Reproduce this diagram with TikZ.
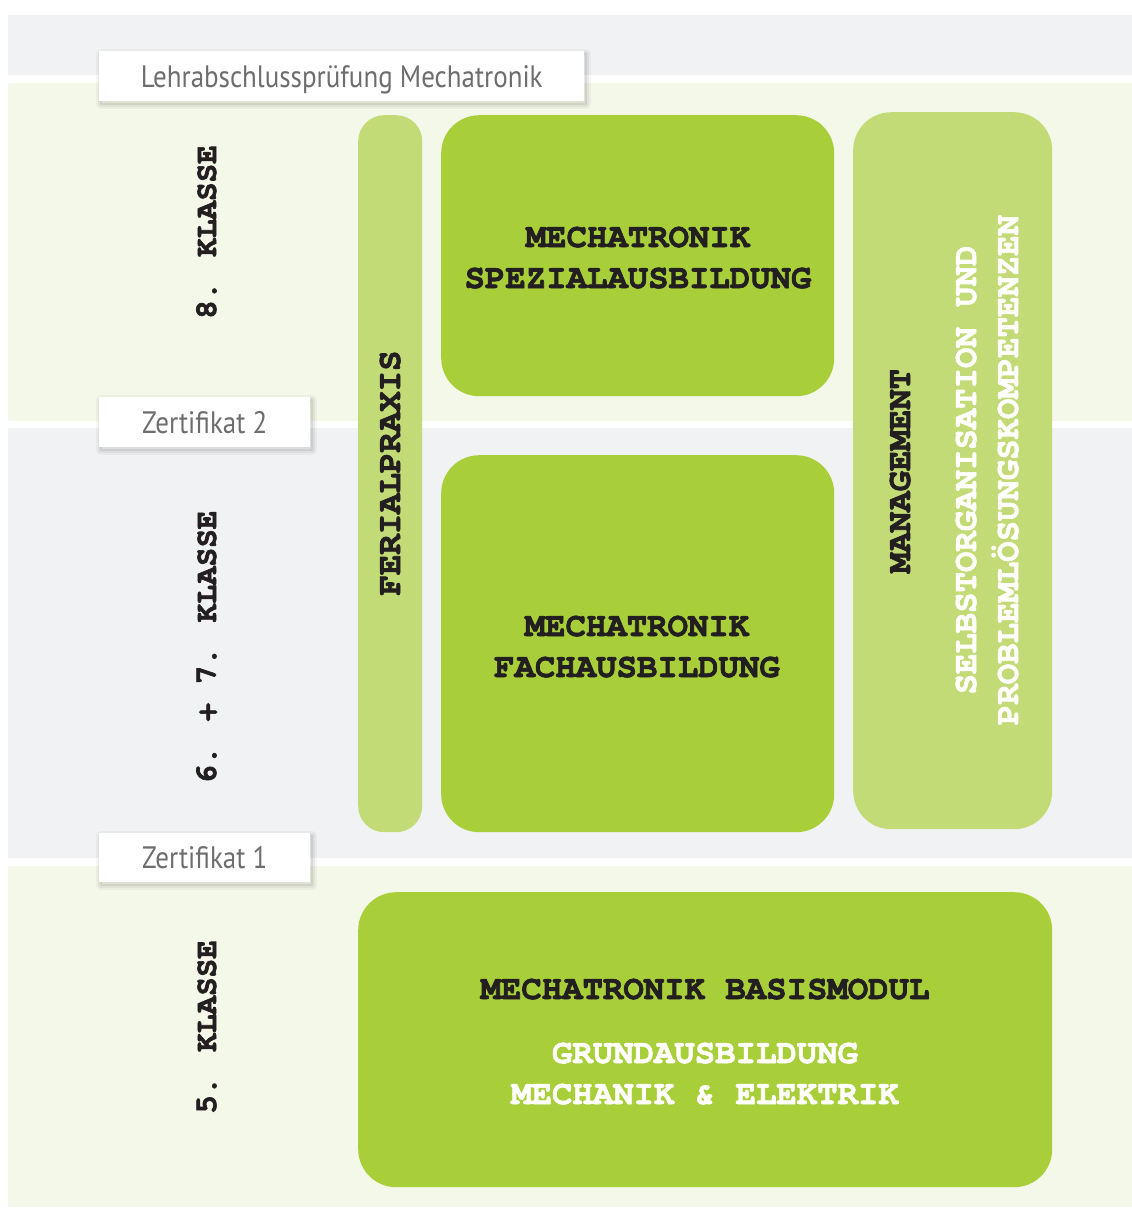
\documentclass[tikz,border=0pt]{standalone}
\usepackage{fontspec}
\setmainfont{Liberation Serif}
\newfontfamily\monofont{TeX Gyre Cursor}[BoldFeatures={FakeBold=2}]
\newfontfamily\lblfont{PT Sans}[FakeStretch=0.87]
\definecolor{bandgray}{HTML}{F1F2F4}
\definecolor{bandgreen}{HTML}{F4F8E9}
\definecolor{darkgreen}{HTML}{A8CF3A}
\definecolor{lightgreen}{HTML}{C2DB77}
\definecolor{ink}{HTML}{231F20}
\definecolor{lblgray}{HTML}{6E6E6E}
\begin{document}
\begin{tikzpicture}[x=1pt,y=-1pt,
  mono/.style={font=\monofont\bfseries\fontsize{34}{41}\selectfont, inner sep=0pt, text=ink},
  monosmall/.style={font=\monofont\bfseries\fontsize{31}{38}\selectfont, inner sep=0pt, text=ink},
  whitetext/.style={text=white},
  modbox/.style={fill=darkgreen, draw=none, rounded corners=38pt, anchor=north west, inner sep=0pt},
  sidebox/.style={fill=lightgreen, draw=none, anchor=north west, inner sep=0pt},
  lblbox/.style={fill=white, draw=none, anchor=north west, inner sep=0pt,
    font=\lblfont\fontsize{31}{36}\selectfont, text=lblgray, text height=22pt, text depth=0pt,
    preaction={draw=black, line width=10pt, line join=round, opacity=0.035, transform canvas={shift={(2pt,-3pt)}}},
    preaction={draw=black, line width=6pt, line join=round, opacity=0.05, transform canvas={shift={(2pt,-3pt)}}},
    preaction={draw=black, line width=2.5pt, line join=round, opacity=0.07, transform canvas={shift={(2pt,-3pt)}}}}
]
\useasboundingbox (0,0) rectangle (1132,1208);
\fill[white] (0,0) rectangle (1132,1208);
% bands
\fill[bandgray] (8,15) rectangle (1132,75);
\fill[bandgreen] (8,83) rectangle (1132,421);
\fill[bandgray] (8,428) rectangle (1132,858);
\fill[bandgreen] (8,866) rectangle (1132,1207);

% module boxes
\node[sidebox, rounded corners=26pt, minimum width=64pt, minimum height=717pt] (ferial) at (358,115) {};
\node[modbox, minimum width=393pt, minimum height=281pt] (spezial) at (441,115) {};
\node[modbox, minimum width=393pt, minimum height=377pt] (fach) at (441,455) {};
\node[sidebox, rounded corners=38pt, minimum width=199pt, minimum height=717pt] (mgmt) at (853,112) {};
\node[modbox, minimum width=694pt, minimum height=295pt] (basis) at (358,892) {};

% labels
\node[lblbox, minimum width=485pt, minimum height=50pt] (exam) at (99,51) {Lehrabschlussprüfung Mechatronik};
\node[lblbox, minimum width=211pt, minimum height=50pt] (zert2) at (99,397) {Zertifikat 2};
\node[lblbox, minimum width=211pt, minimum height=49pt] (zert1) at (99,833) {Zertifikat 1};

% class labels
\node[monosmall, rotate=90, anchor=base] (kl8) at (216,232) {8. KLASSE};
\node[monosmall, rotate=90, anchor=base] (kl67) at (216,647) {6. + 7. KLASSE};
\node[monosmall, rotate=90, anchor=base] (kl5) at (216,1027) {5. KLASSE};

% module texts
\node[mono, anchor=base] (spezA) at (638,247) {MECHATRONIK};
\node[mono, anchor=base] (spezB) at (638,288) {SPEZIALAUSBILDUNG};
\node[mono, anchor=base] (fachA) at (637,636) {MECHATRONIK};
\node[mono, anchor=base] (fachB) at (637,677) {FACHAUSBILDUNG};
\node[mono, anchor=base] (basA) at (705,999) {MECHATRONIK BASISMODUL};
\node[mono, whitetext, anchor=base] (basB) at (705,1063) {GRUNDAUSBILDUNG};
\node[mono, whitetext, anchor=base] (basC) at (705,1104) {MECHANIK \& ELEKTRIK};

\node[mono, rotate=90, anchor=base] (ferialtxt) at (400,473) {FERIALPRAXIS};
\node[mono, rotate=90, anchor=base] (mgmtA) at (910,471) {MANAGEMENT};
\node[mono, whitetext, rotate=90, anchor=base] (mgmtB) at (976,470) {SELBSTORGANISATION UND};
\node[mono, whitetext, rotate=90, anchor=base] (mgmtC) at (1018,470) {PROBLEMLÖSUNGSKOMPETENZEN};
\end{tikzpicture}
\end{document}
